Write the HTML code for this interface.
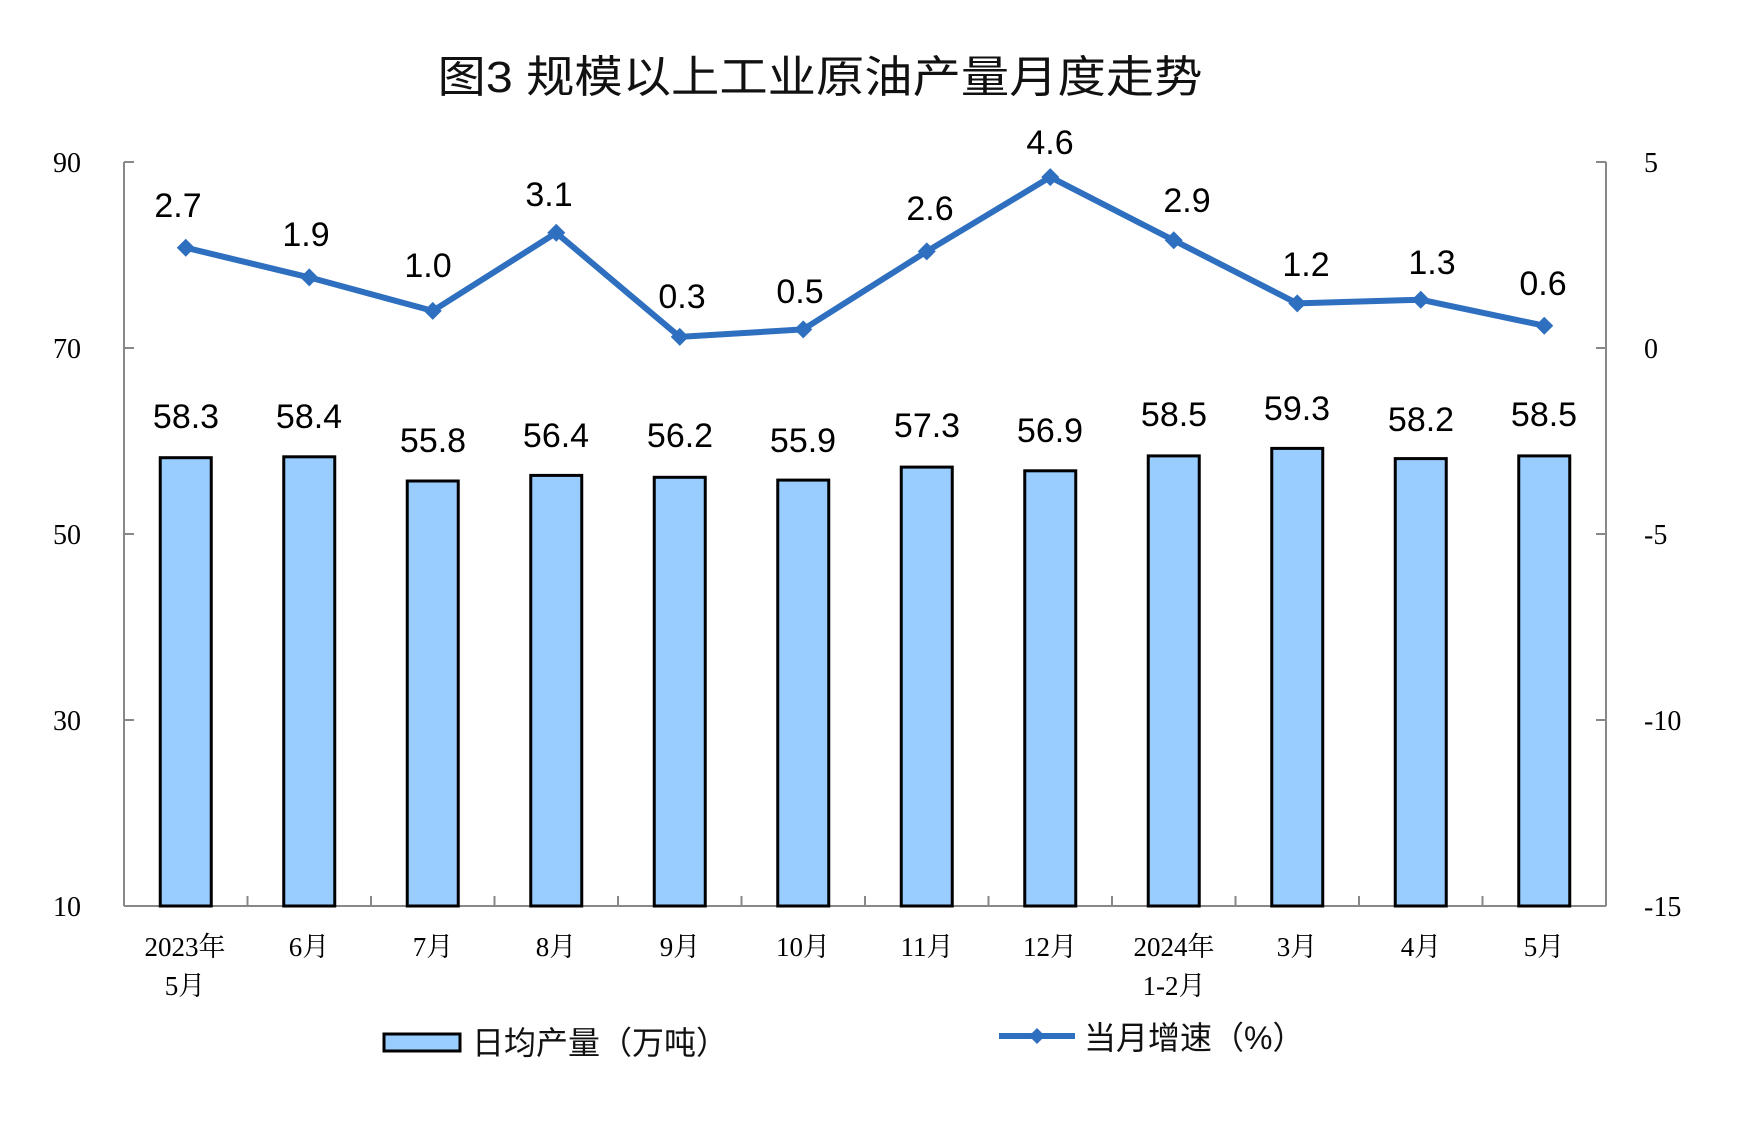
<!DOCTYPE html>
<html><head><meta charset="utf-8"><style>
html,body{margin:0;padding:0;background:#fff;}
svg{display:block;}
</style></head><body>
<svg width="1737" height="1137" viewBox="0 0 1737 1137" xmlns="http://www.w3.org/2000/svg">
<rect width="1737" height="1137" fill="#fff"/>
<text x="820" y="92" text-anchor="middle" font-family="'Liberation Sans','Noto Sans CJK SC',sans-serif" font-size="44" textLength="765" lengthAdjust="spacingAndGlyphs" fill="#111">图3  规模以上工业原油产量月度走势</text>
<g stroke="#888" stroke-width="2" fill="none">
<line x1="124" y1="162" x2="124" y2="906"/>
<line x1="1606" y1="162" x2="1606" y2="906"/>
<line x1="124" y1="906" x2="1606" y2="906"/>
<line x1="124" y1="162" x2="134" y2="162"/><line x1="124" y1="348" x2="134" y2="348"/><line x1="124" y1="534" x2="134" y2="534"/><line x1="124" y1="720" x2="134" y2="720"/>
<line x1="1596" y1="162" x2="1606" y2="162"/><line x1="1596" y1="348" x2="1606" y2="348"/><line x1="1596" y1="534" x2="1606" y2="534"/><line x1="1596" y1="720" x2="1606" y2="720"/>
<path d="M247.5 906v-10M371 906v-10M494.5 906v-10M618 906v-10M741.5 906v-10M865 906v-10M988.5 906v-10M1112 906v-10M1235.5 906v-10M1359 906v-10M1482.5 906v-10"/>
</g>
<g font-family="'Liberation Serif',serif" font-size="28" fill="#000" text-anchor="middle">
<text x="67" y="172">90</text><text x="67" y="358">70</text><text x="67" y="544">50</text><text x="67" y="730">30</text><text x="67" y="916">10</text>
</g>
<g font-family="'Liberation Serif',serif" font-size="28" fill="#000">
<text x="1644" y="172">5</text><text x="1644" y="358">0</text><text x="1644" y="544">-5</text><text x="1644" y="730">-10</text><text x="1644" y="916">-15</text>
</g>
<g fill="#99CCFF" stroke="#000" stroke-width="3">
<rect x="160.25" y="457.7" width="51" height="448.3"/>
<rect x="283.75" y="456.8" width="51" height="449.2"/>
<rect x="407.25" y="481" width="51" height="425"/>
<rect x="530.75" y="475.4" width="51" height="430.6"/>
<rect x="654.25" y="477.3" width="51" height="428.7"/>
<rect x="777.75" y="480.1" width="51" height="425.9"/>
<rect x="901.25" y="467.1" width="51" height="438.9"/>
<rect x="1024.75" y="470.8" width="51" height="435.2"/>
<rect x="1148.25" y="455.9" width="51" height="450.1"/>
<rect x="1271.75" y="448.4" width="51" height="457.6"/>
<rect x="1395.25" y="458.6" width="51" height="447.4"/>
<rect x="1518.75" y="455.9" width="51" height="450.1"/>
</g>
<g font-family="'Liberation Sans',sans-serif" font-size="34" fill="#000" text-anchor="middle">
<text x="186" y="428">58.3</text><text x="309" y="428">58.4</text><text x="433" y="452">55.8</text><text x="556" y="447">56.4</text>
<text x="680" y="447">56.2</text><text x="803" y="452">55.9</text><text x="927" y="437">57.3</text><text x="1050" y="442">56.9</text>
<text x="1174" y="426">58.5</text><text x="1297" y="420">59.3</text><text x="1421" y="431">58.2</text><text x="1544" y="426">58.5</text>
</g>
<polyline fill="none" stroke="#2E6FBF" stroke-width="6" stroke-linejoin="round" points="185.75,247.7 309.25,277.4 432.75,310.9 556.25,232.8 679.75,336.9 803.25,329.4 926.75,251.4 1050.25,177.1 1173.75,240.3 1297.25,303.4 1420.75,299.7 1544.25,325.7"/>
<g fill="#2E6FBF">
<path d="M185.75 238.7l9 9-9 9-9-9z"/><path d="M309.25 268.4l9 9-9 9-9-9z"/><path d="M432.75 301.9l9 9-9 9-9-9z"/><path d="M556.25 223.8l9 9-9 9-9-9z"/>
<path d="M679.75 327.9l9 9-9 9-9-9z"/><path d="M803.25 320.4l9 9-9 9-9-9z"/><path d="M926.75 242.4l9 9-9 9-9-9z"/><path d="M1050.25 168.1l9 9-9 9-9-9z"/>
<path d="M1173.75 231.3l9 9-9 9-9-9z"/><path d="M1297.25 294.4l9 9-9 9-9-9z"/><path d="M1420.75 290.7l9 9-9 9-9-9z"/><path d="M1544.25 316.7l9 9-9 9-9-9z"/>
</g>
<g font-family="'Liberation Sans',sans-serif" font-size="34" fill="#000" text-anchor="middle">
<text x="178" y="217">2.7</text><text x="306" y="246">1.9</text><text x="428" y="277">1.0</text><text x="549" y="206">3.1</text>
<text x="682" y="308">0.3</text><text x="800" y="303">0.5</text><text x="930" y="220">2.6</text><text x="1050" y="154">4.6</text>
<text x="1187" y="212">2.9</text><text x="1306" y="276">1.2</text><text x="1432" y="274">1.3</text><text x="1543" y="295">0.6</text>
</g>
<g font-family="'Liberation Serif','Noto Serif CJK SC',serif" font-size="27" fill="#000" text-anchor="middle">
<text x="185" y="956">2023年</text><text x="185" y="995">5月</text>
<text x="309" y="956">6月</text><text x="433" y="956">7月</text><text x="556" y="956">8月</text><text x="680" y="956">9月</text>
<text x="803" y="956">10月</text><text x="927" y="956">11月</text><text x="1050" y="956">12月</text>
<text x="1174" y="956">2024年</text><text x="1174" y="995">1-2月</text>
<text x="1297" y="956">3月</text><text x="1421" y="956">4月</text><text x="1544" y="956">5月</text>
</g>
<rect x="384" y="1034" width="76" height="17" fill="#99CCFF" stroke="#000" stroke-width="3"/>
<text x="472" y="1054" font-family="'Liberation Sans','Noto Sans CJK SC',sans-serif" font-size="32" fill="#111">日均产量（万吨）</text>
<line x1="999" y1="1036" x2="1075" y2="1036" stroke="#2E6FBF" stroke-width="6"/>
<path d="M1037 1028l8 8-8 8-8-8z" fill="#2E6FBF"/>
<text x="1084" y="1049" font-family="'Liberation Sans','Noto Sans CJK SC',sans-serif" font-size="32" fill="#111">当月增速（%）</text>
</svg>
</body></html>
